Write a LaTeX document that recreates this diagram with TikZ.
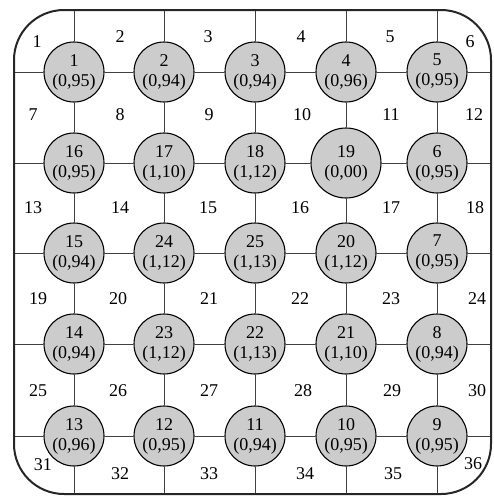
\documentclass[tikz,border=0pt]{standalone}
\usepackage{fontspec}
\setmainfont{Liberation Serif}
\begin{document}
\begin{tikzpicture}[x=1pt,y=-1pt,
  cell/.style={circle,draw=black,line width=1.1pt,fill=black!20,minimum size=60pt,inner sep=0pt,align=center,font=\fontsize{18}{20}\selectfont},
  bigcell/.style={minimum size=70pt},
  reg/.style={font=\fontsize{18}{20}\selectfont,inner sep=0pt},
  gridline/.style={draw=black!75,line width=0.7pt},
  frame/.style={draw=black!85,line width=2pt,rounded corners=50pt}]
\useasboundingbox (0,0) rectangle (494,496);
\foreach \c/\x in {1/74,2/164,3/255,4/346,5/437}{
  \coordinate (T\c) at (\x,10);
  \coordinate (B\c) at (\x,494);}
\foreach \r/\y in {1/72,2/163,3/253,4/344,5/436}{
  \coordinate (L\r) at (14,\y);
  \coordinate (R\r) at (491,\y);}
% nodes
\node[cell] (n11) at (74,72) {1\\(0,95)};
\node[cell] (n12) at (164,72) {2\\(0,94)};
\node[cell] (n13) at (255,72) {3\\(0,94)};
\node[cell] (n14) at (346,72) {4\\(0,96)};
\node[cell] (n15) at (437,72) {5\\(0,95)};
\node[cell] (n21) at (74,163) {16\\(0,95)};
\node[cell] (n22) at (164,163) {17\\(1,10)};
\node[cell] (n23) at (255,163) {18\\(1,12)};
\node[cell,bigcell] (n24) at (346,163) {19\\(0,00)};
\node[cell] (n25) at (437,163) {6\\(0,95)};
\node[cell] (n31) at (74,253) {15\\(0,94)};
\node[cell] (n32) at (164,253) {24\\(1,12)};
\node[cell] (n33) at (255,253) {25\\(1,13)};
\node[cell] (n34) at (346,253) {20\\(1,12)};
\node[cell] (n35) at (437,253) {7\\(0,95)};
\node[cell] (n41) at (74,344) {14\\(0,94)};
\node[cell] (n42) at (164,344) {23\\(1,12)};
\node[cell] (n43) at (255,344) {22\\(1,13)};
\node[cell] (n44) at (346,344) {21\\(1,10)};
\node[cell] (n45) at (437,344) {8\\(0,94)};
\node[cell] (n51) at (74,436) {13\\(0,96)};
\node[cell] (n52) at (164,436) {12\\(0,95)};
\node[cell] (n53) at (255,436) {11\\(0,94)};
\node[cell] (n54) at (346,436) {10\\(0,95)};
\node[cell] (n55) at (437,436) {9\\(0,95)};
% grid lines
\foreach \r in {1,...,5}{
  \draw[gridline] (L\r) -- (n\r1) -- (n\r2) -- (n\r3) -- (n\r4) -- (n\r5) -- (R\r);}
\foreach \c in {1,...,5}{
  \draw[gridline] (T\c) -- (n1\c) -- (n2\c) -- (n3\c) -- (n4\c) -- (n5\c) -- (B\c);}
% frame
\draw[frame] (14,10) rectangle (491,494);
% region labels
\node[reg] (r1) at (37,42) {1};
\node[reg] (r2) at (120,37) {2};
\node[reg] (r3) at (208,37) {3};
\node[reg] (r4) at (301,37) {4};
\node[reg] (r5) at (390,37) {5};
\node[reg] (r6) at (470,42) {6};
\node[reg] (r7) at (33,115) {7};
\node[reg] (r8) at (120,115) {8};
\node[reg] (r9) at (209,115) {9};
\node[reg] (r10) at (302,115) {10};
\node[reg] (r11) at (391,115) {11};
\node[reg] (r12) at (474,115) {12};
\node[reg] (r13) at (33,208) {13};
\node[reg] (r14) at (120,208) {14};
\node[reg] (r15) at (208,208) {15};
\node[reg] (r16) at (300,208) {16};
\node[reg] (r17) at (391,208) {17};
\node[reg] (r18) at (475,208) {18};
\node[reg] (r19) at (38,299) {19};
\node[reg] (r20) at (118,299) {20};
\node[reg] (r21) at (209,299) {21};
\node[reg] (r22) at (300,299) {22};
\node[reg] (r23) at (391,299) {23};
\node[reg] (r24) at (477,299) {24};
\node[reg] (r25) at (38,391) {25};
\node[reg] (r26) at (118,391) {26};
\node[reg] (r27) at (209,391) {27};
\node[reg] (r28) at (303,391) {28};
\node[reg] (r29) at (392,391) {29};
\node[reg] (r30) at (477,391) {30};
\node[reg] (r31) at (43,465) {31};
\node[reg] (r32) at (120,474) {32};
\node[reg] (r33) at (209,474) {33};
\node[reg] (r34) at (305,474) {34};
\node[reg] (r35) at (393,474) {35};
\node[reg] (r36) at (473,464) {36};
\end{tikzpicture}
\end{document}
